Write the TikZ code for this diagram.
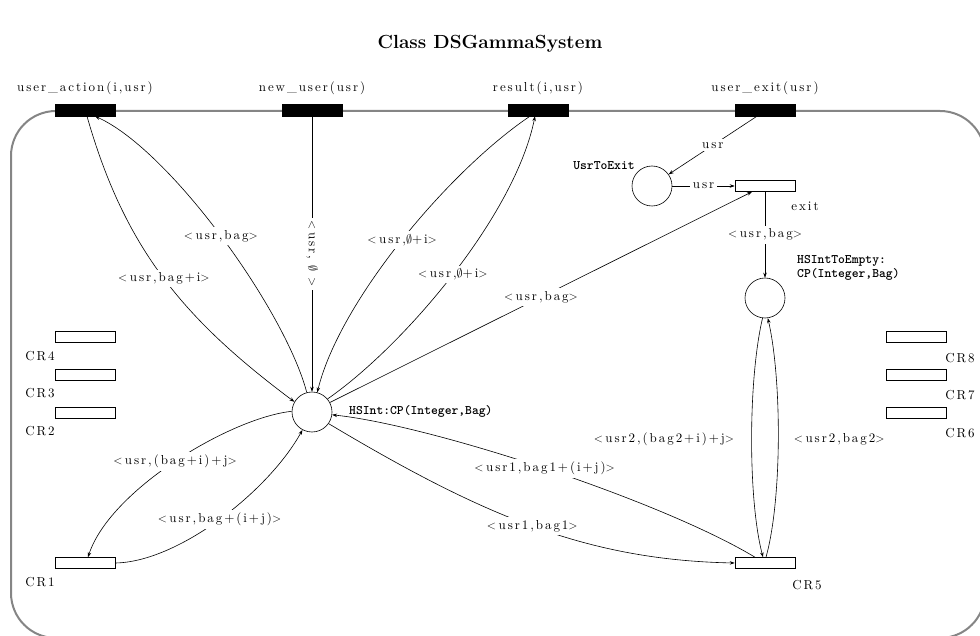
\documentclass[tikz,border=0pt]{standalone}
\usepackage{fontspec}
\usetikzlibrary{arrows.meta}
% spaced-out roman face for all the net inscriptions
\newfontfamily\lblfont{lmroman10-regular.otf}[LetterSpace=15]
\definecolor{framegray}{HTML}{858585}
\newcommand{\lt}{$<$\hspace{2.5pt}}
\newcommand{\gt}{$>$}
\begin{document}
\begin{tikzpicture}[x=1pt,y=-1pt,
  every node/.style={font=\lblfont\fontsize{13}{15}\selectfont},
  arc/.style={line width=0.6pt,-{Stealth[length=5pt,width=3.5pt]}},
  lab/.style={fill=white,inner sep=3pt},
  place/.style={circle,draw,line width=0.6pt,minimum size=40pt,inner sep=0pt},
  port/.style={rectangle,draw,fill=black,minimum width=60pt,minimum height=12pt,inner sep=0pt},
  trans/.style={rectangle,draw,line width=0.6pt,minimum width=60pt,minimum height=11pt,inner sep=0pt},
  ttlab/.style={font=\ttfamily\bfseries\fontsize{13}{14}\selectfont,inner sep=0pt}
]
\useasboundingbox (0,0) rectangle (980,636);

% class title
\node[font=\bfseries\fontsize{19}{22}\selectfont] (title) at (490,44) {Class DSGammaSystem};

% class border
\draw[framegray,line width=2pt,rounded corners=45pt] (11,111) rectangle (985,638);

% interface transitions on the border
\node[port] (ua)  at (85,110)  {};
\node[port] (nu)  at (312,110) {};
\node[port] (res) at (538,110) {};
\node[port] (uex) at (765,110) {};
\node[anchor=base] (ual)  at (85,92)  {user\_action(i,usr)};
\node[anchor=base] (nul)  at (312,92) {new\_user(usr)};
\node[anchor=base] (resl) at (538,92) {result(i,usr)};
\node[anchor=base] (uexl) at (765,92) {user\_exit(usr)};

% places
\node[place] (ute)   at (652,186) {};
\node[place] (hsie)  at (765,298) {};
\node[place] (hsint) at (312,412) {};
\node[ttlab] (utel) at (604,166) {UsrToExit};
\node[ttlab,anchor=west] (hsintl) at (349,411) {HSInt:CP(Integer,Bag)};
\node[ttlab,anchor=west] (hsiel1) at (797,261) {HSIntToEmpty:};
\node[ttlab,anchor=west] (hsiel2) at (797,274) {CP(Integer,Bag)};

% internal transitions
\node[trans] (exit) at (765,186) {};
\node[anchor=base] (exitl) at (805,211) {exit};
\node[trans] (cr1) at (85,563)    {};
\node[trans] (cr2) at (85,412.5)  {};
\node[trans] (cr3) at (85,374.5)  {};
\node[trans] (cr4) at (85,337)    {};
\node[trans] (cr5) at (765,563)   {};
\node[trans] (cr6) at (916,412.5) {};
\node[trans] (cr7) at (916,374.5) {};
\node[trans] (cr8) at (916,337)   {};
\node (cr1l) at (40,582)  {CR1};
\node (cr2l) at (40,431)  {CR2};
\node (cr3l) at (40,393)  {CR3};
\node (cr4l) at (40,356)  {CR4};
\node (cr5l) at (807,585) {CR5};
\node (cr6l) at (960,433) {CR6};
\node (cr7l) at (960,395) {CR7};
\node (cr8l) at (960,358) {CR8};

% arcs around HSInt
\draw[arc] ([xshift=2pt]ua.south) .. controls (125,250) and (185,320) .. (hsint.150)
  node[lab,pos=.5] {\lt usr,bag+i\gt};
\draw[arc] (hsint.105) .. controls (285,310) and (170,150) .. ([xshift=10pt]ua.south)
  node[lab,pos=.5] {\lt usr,bag\gt};
\draw[arc] (nu.south) -- (hsint.north)
  node[lab,midway,rotate=-90] {\lt usr, $\emptyset$ \gt};
\draw[arc] ([xshift=-8pt]res.south) .. controls (450,170) and (340,300) .. (hsint.75)
  node[lab,pos=.5] {\lt usr,$\emptyset$+i\gt};
\draw[arc] (hsint.40) .. controls (405,345) and (515,215) .. ([xshift=-3pt]res.south)
  node[lab,pos=.5] {\lt usr,$\emptyset$+i\gt};
\draw[arc] (hsint.28) -- ([xshift=-13pt]exit.south)
  node[lab,midway] {\lt usr,bag\gt};
\draw[arc] ([xshift=-10pt]cr5.north) .. controls (660,500) and (430,425) .. (hsint.-8)
  node[lab,pos=.5] {\lt usr1,bag1+(i+j)\gt};
\draw[arc] (hsint.-35) .. controls (480,514) and (585,560) .. (cr5.west)
  node[lab,pos=.5] {\lt usr1,bag1\gt};
\draw[arc] (hsint.178) .. controls (230,418) and (110,490) .. ([xshift=3pt]cr1.north)
  node[lab,pos=.5] {\lt usr,(bag+i)+j\gt};
\draw[arc] (cr1.east) .. controls (178,562) and (268,492) .. (hsint.-118)
  node[lab,pos=.5] {\lt usr,bag+(i+j)\gt};

% exit handling
\draw[arc] ([xshift=-8pt]uex.south) -- (ute.35) node[lab,midway] {usr};
\draw[arc] (ute.east) -- (exit.west) node[lab,midway] {usr};
\draw[arc] (exit.south) -- (hsie.north) node[lab,midway] {\lt usr,bag\gt};
\draw[arc] (hsie.-97) .. controls (748,380) and (748,500) .. ([xshift=-2pt]cr5.north)
  node[pos=.5,left=14pt] {\lt usr2,(bag2+i)+j\gt};
\draw[arc] ([xshift=1pt]cr5.north) .. controls (782,500) and (782,380) .. (hsie.-82)
  node[pos=.5,right=12pt] {\lt usr2,bag2\gt};
\end{tikzpicture}
\end{document}
